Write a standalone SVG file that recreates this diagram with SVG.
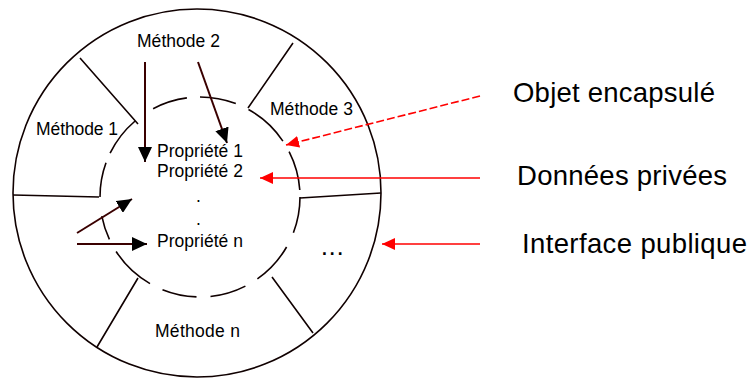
<svg xmlns="http://www.w3.org/2000/svg" width="749" height="378" viewBox="0 0 749 378">
<style>
.ln{fill:none;stroke:#100000;stroke-width:1.6}
.arw{fill:none;stroke:#3a0000;stroke-width:2}
.red{fill:none;stroke:#ff0000;stroke-width:1.6}
.sm{font-family:"Liberation Sans",Arial,sans-serif;font-size:17.5px;fill:#000}
.lg{font-family:"Liberation Sans",Arial,sans-serif;font-size:27.5px;fill:#000}
</style>
<defs>
<marker id="hb" markerUnits="userSpaceOnUse" markerWidth="16" markerHeight="14" refX="15" refY="7" orient="auto">
<path d="M0,0 L15,7 L0,14 z" fill="#000"/>
</marker>
<marker id="hr" markerUnits="userSpaceOnUse" markerWidth="14" markerHeight="12" refX="13" refY="6" orient="auto">
<path d="M0,0 L13,6 L0,12 z" fill="#ff0000"/>
</marker>
</defs>
<rect width="749" height="378" fill="#fff"/>
<g id="objet">
<circle class="ln" cx="197" cy="193" r="184"/>
<path class="ln" d="M80,58 L138,124 M293,43 L248,108 M13,195 L99,197 M300,198 L381,193 M138,278 L97,347 M272,277 L313,333"/>
</g>
<g id="donnees">
<path class="ln" d="M153.1,108.7 A100,100 0 0 1 186.9,97.9 M200,97 A100,100 0 0 1 235.8,103.6 M248.5,109.5 A100,100 0 0 1 282.9,141.1 M289.1,151.6 A100,100 0 0 1 299.8,190 M300,197 A100,100 0 0 1 293.4,232.8 M286.6,247 A100,100 0 0 1 257.4,278.9 M245.4,286.1 A100,100 0 0 1 210.5,296.5 M196.5,296.9 A100,100 0 0 1 162.5,289.7 M150,283.6 A100,100 0 0 1 116.1,251.5 M109.4,239.3 A100,100 0 0 1 101.8,216.1 M100,197 A100,100 0 0 1 106,162.8 M110.1,153.2 A100,100 0 0 1 135.1,121"/>
</g>
<g id="methode1"><text class="sm" x="36" y="135" textLength="82">Méthode 1</text></g>
<g id="methode2"><text class="sm" x="137" y="47" textLength="83">Méthode 2</text></g>
<g id="methode3"><text class="sm" x="270" y="115" textLength="83">Méthode 3</text></g>
<g id="methoden"><text class="sm" x="155" y="337" textLength="85">Méthode n</text></g>
<g id="etc"><text class="sm" x="322" y="255" font-weight="bold" letter-spacing="3">...</text></g>
<g id="proprietes">
<text class="sm" x="157" y="157" textLength="86">Propriété 1</text>
<text class="sm" x="157" y="177" textLength="86">Propriété 2</text>
<text class="sm" x="196" y="202">.</text>
<text class="sm" x="196" y="225">.</text>
<text class="sm" x="157" y="247" textLength="86">Propriété n</text>
</g>
<g id="labels">
<text class="lg" x="513" y="102" textLength="202">Objet encapsulé</text>
<text class="lg" x="517" y="185" textLength="210">Données privées</text>
<text class="lg" x="522" y="253" textLength="225">Interface publique</text>
</g>
<g id="connectors">
<line class="arw" x1="145" y1="62" x2="145" y2="162" marker-end="url(#hb)"/>
<line class="arw" x1="198" y1="62" x2="227" y2="143" marker-end="url(#hb)"/>
<line class="arw" x1="77" y1="233" x2="132" y2="199" marker-end="url(#hb)"/>
<line class="arw" x1="77" y1="244" x2="147" y2="244" marker-end="url(#hb)"/>
<line class="red" x1="480" y1="96" x2="286" y2="145" stroke-dasharray="8 3" marker-end="url(#hr)"/>
<line class="red" x1="480" y1="178" x2="260" y2="178" marker-end="url(#hr)"/>
<line class="red" x1="480" y1="244" x2="382" y2="244" marker-end="url(#hr)"/>
</g>
</svg>
